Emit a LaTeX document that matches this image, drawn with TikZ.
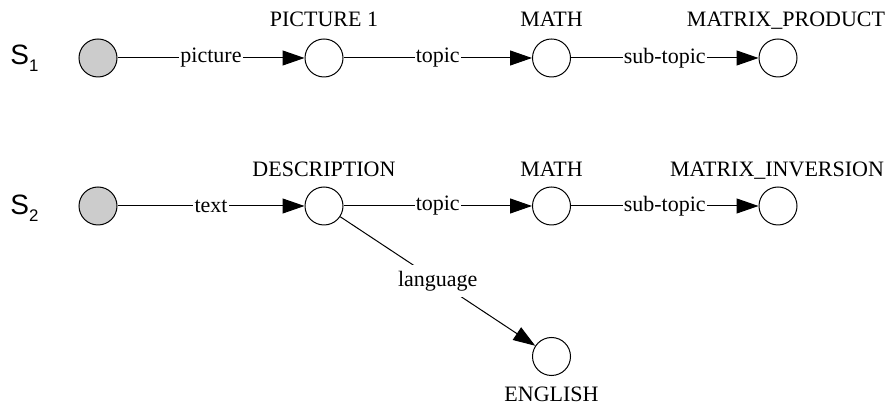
\documentclass[tikz,border=0pt]{standalone}
\usepackage{fontspec}
\setmainfont{Liberation Serif}
\setsansfont{Liberation Sans}
\usetikzlibrary{arrows.meta}
\newcommand{\seqname}[1]{{\sffamily\fontsize{14}{16}\selectfont S\raisebox{-3.5pt}{\fontsize{8.4}{10}\selectfont #1}}}
\begin{document}
\begin{tikzpicture}[x=0.5pt,y=-0.5pt,
  txt/.style={font=\fontsize{11}{13}\selectfont},
  state/.style={circle,draw,line width=0.5pt,minimum size=19pt,inner sep=0pt},
  start/.style={state,fill=gray!40},
  rel/.style={line width=0.5pt,-{Triangle[length=11pt,width=7.5pt]}},
  edgelbl/.style={txt,fill=white,inner xsep=0.6pt,inner ysep=3pt},
  namelbl/.style={txt,anchor=base,inner sep=0pt},
  ]
\useasboundingbox (0,0) rectangle (889,405);

% row 1
\node[anchor=base west,inner sep=0pt] (s1) at (10,65) {\seqname{1}};
\node[start] (a0) at (98,58) {};
\node[state] (a1) at (324,58) {};
\node[state] (a2) at (551.5,58) {};
\node[state] (a3) at (778,58) {};
\node[namelbl] (a1n) at (324,27) {PICTURE 1};
\node[namelbl] (a2n) at (551.5,27) {MATH};
\node[namelbl] (a3n) at (786,27) {MATRIX\_PRODUCT};
\draw[rel] (a0) -- node[edgelbl] {picture} (a1);
\draw[rel] (a1) -- node[edgelbl] {topic} (a2);
\draw[rel] (a2) -- node[edgelbl] {sub-topic} (a3);

% row 2
\node[anchor=base west,inner sep=0pt] (s2) at (10,215) {\seqname{2}};
\node[start] (b0) at (98,206) {};
\node[state] (b1) at (324,206) {};
\node[state] (b2) at (551.5,206) {};
\node[state] (b3) at (778,206) {};
\node[state] (b4) at (551.5,356.5) {};
\node[namelbl] (b1n) at (324,177) {DESCRIPTION};
\node[namelbl] (b2n) at (551.5,177) {MATH};
\node[namelbl] (b3n) at (777,177) {MATRIX\_INVERSION};
\node[namelbl] (b4n) at (551.5,401.5) {ENGLISH};
\draw[rel] (b0) -- node[edgelbl] {text} (b1);
\draw[rel] (b1) -- node[edgelbl] {topic} (b2);
\draw[rel] (b2) -- node[edgelbl] {sub-topic} (b3);
\draw[rel] (b1) -- node[edgelbl] {language} (b4);
\end{tikzpicture}
\end{document}
